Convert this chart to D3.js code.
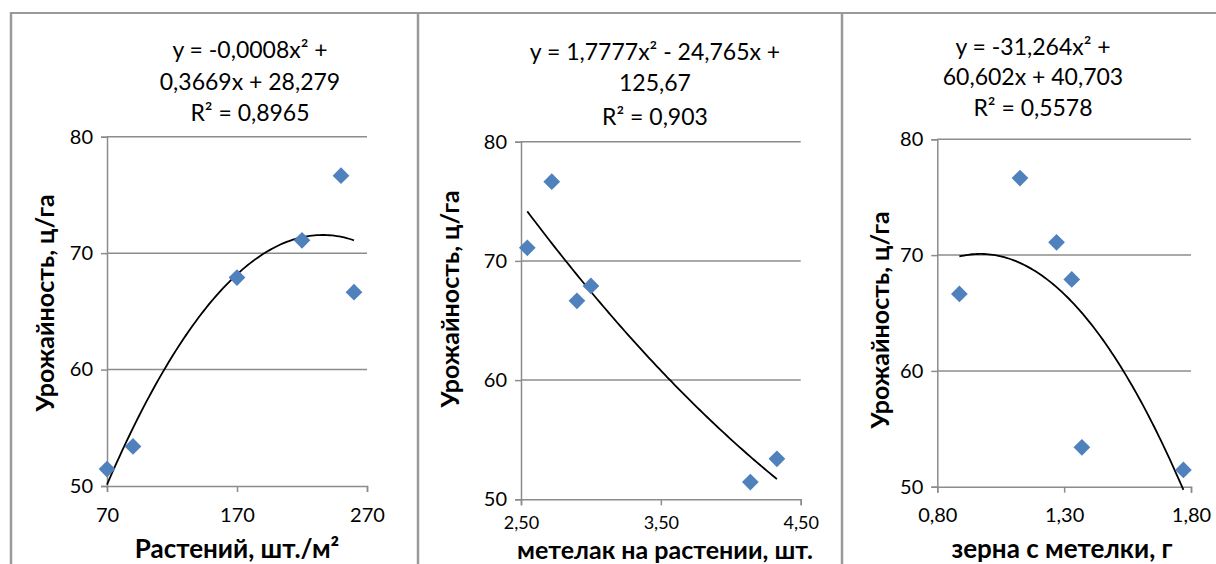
<!DOCTYPE html>
<html>
<head>
<meta charset="utf-8">
<script src="https://cdn.jsdelivr.net/npm/d3@7"></script>
<style>
  body { margin: 0; background: #fff; }
  svg { display: block; font-family: Lato, "Open Sans", sans-serif; }
</style>
</head>
<body>
<div id="chart"></div>
<script>
// yields of the six varieties, ц/га
var yields = [51.45, 53.4, 67.9, 71.1, 76.65, 66.65];
// factors for the same varieties
var plants = [70, 90, 170, 220, 250, 260];          // растений, шт./м²
var panicles = [4.14, 4.33, 3.0, 2.545, 2.72, 2.9]; // метелок на растении
var grain = [1.77, 1.37, 1.33, 1.27, 1.126, 0.887]; // зерна с метелки, г

var yTicks = [50, 60, 70, 80];
var xTicks1 = [70, 170, 270], xTickText1 = ["70", "170", "270"];
var xTicks2 = [2.5, 3.5, 4.5], xTickText2 = ["2,50", "3,50", "4,50"];
var xTicks3 = [0.8, 1.3, 1.8], xTickText3 = ["0,80", "1,30", "1,80"];

var eq1 = ["y = -0,0008x² +", "0,3669x + 28,279", "R² = 0,8965"];
var eq2 = ["y = 1,7777x² - 24,765x +", "125,67", "R² = 0,903"];
var eq3 = ["y = -31,264x² +", "60,602x + 40,703", "R² = 0,5578"];

var yTitle = "Урожайность, ц/га";
var xTitles = ["Растений, шт./м²", "метелак на растении, шт.", "зерна с метелки, г"];

var W = 1216, H = 564;
var svg = d3.select("#chart").append("svg").attr("width", W).attr("height", H);

// panel frames
var frame = "#9a9a9a";
svg.append("line").attr("x1", 10).attr("x2", 1216).attr("y1", 13).attr("y2", 13)
   .attr("stroke", frame).attr("stroke-width", 2);
[11, 418, 842].forEach(function(x) {
  svg.append("line").attr("x1", x).attr("x2", x).attr("y1", 12).attr("y2", H)
     .attr("stroke", frame).attr("stroke-width", 2.5);
});

// least squares quadratic fit
function quadFit(xs, ys) {
  var n = xs.length, s = [0,0,0,0,0], t = [0,0,0];
  for (var i = 0; i < n; i++) {
    var p = 1;
    for (var k = 0; k < 5; k++) { s[k] += p; if (k < 3) t[k] += p * ys[i]; p *= xs[i]; }
  }
  var A = [[s[0], s[1], s[2], t[0]], [s[1], s[2], s[3], t[1]], [s[2], s[3], s[4], t[2]]];
  for (var c = 0; c < 3; c++) {
    for (var r = c + 1; r < 3; r++) {
      var f = A[r][c] / A[c][c];
      for (var j = c; j < 4; j++) A[r][j] -= f * A[c][j];
    }
  }
  var b = [0,0,0];
  for (var r2 = 2; r2 >= 0; r2--) {
    var v = A[r2][3];
    for (var j2 = r2 + 1; j2 < 3; j2++) v -= A[r2][j2] * b[j2];
    b[r2] = v / A[r2][r2];
  }
  return function(x) { return b[0] + b[1] * x + b[2] * x * x; };
}

var panels = [
  {xs: plants, dom: [70, 270], xr: [107, 367], yr: [486, 136.7], ticks: xTicks1, tickText: xTickText1, tickSize: 20,
   eq: eq1, eqX: 250, eqY: [58, 90, 121], yTitleX: 45, yTitleY: 303,
   xTitleX: 237, xTitleY: 558, xTitleSize: 26, tickY: 522},
  {xs: panicles, dom: [2.5, 4.5], xr: [521, 800.7], yr: [499.3, 141.7], ticks: xTicks2, tickText: xTickText2, tickSize: 18,
   eq: eq2, eqX: 655, eqY: [60, 91, 125], yTitleX: 450, yTitleY: 299,
   xTitleX: 665, xTitleY: 559, xTitleSize: 25, tickY: 529},
  {xs: grain, dom: [0.8, 1.8], xr: [937.3, 1191], yr: [486.7, 139.3], ticks: xTicks3, tickText: xTickText3, tickSize: 20,
   eq: eq3, eqX: 1033, eqY: [55, 85, 116], yTitleX: 880, yTitleY: 320,
   xTitleX: 1062, xTitleY: 558, xTitleSize: 26, tickY: 522}
];

var grid = "#8c8c8c";

panels.forEach(function(p, idx) {
  var x = d3.scaleLinear().domain(p.dom).range(p.xr);
  var y = d3.scaleLinear().domain([50, 80]).range(p.yr);
  var g = svg.append("g");

  // gridlines
  g.selectAll(".grid").data(yTicks.slice(1)).enter().append("line")
    .attr("x1", p.xr[0]).attr("x2", p.xr[1])
    .attr("y1", function(d) { return y(d); }).attr("y2", function(d) { return y(d); })
    .attr("stroke", grid).attr("stroke-width", 1.5);

  // y axis
  var ya = g.append("g").attr("transform", "translate(" + p.xr[0] + ",0)")
    .call(d3.axisLeft(y).tickValues(yTicks).tickSize(6).tickPadding(8).tickFormat(d3.format("d")));
  // x axis
  var xa = g.append("g").attr("transform", "translate(0," + p.yr[0] + ")")
    .call(d3.axisBottom(x).tickValues(p.ticks).tickSize(6).tickFormat(function(d, i) { return p.tickText[i]; }));
  [ya, xa].forEach(function(a) {
    a.select(".domain").attr("stroke", grid).attr("stroke-width", 1.5);
    a.selectAll(".tick line").attr("stroke", grid).attr("stroke-width", 1.5);
    a.selectAll("text").attr("fill", "#000").style("font-size", "20px").style("font-family", "Lato, sans-serif");
  });
  xa.selectAll("text").attr("y", null).attr("dy", null).style("font-size", p.tickSize + "px")
    .attr("transform", "translate(0," + (p.tickY - p.yr[0]) + ")");

  // trendline
  var fit = quadFit(p.xs, yields);
  var x0 = d3.min(p.xs), x1 = d3.max(p.xs);
  var pts = d3.range(0, 101).map(function(i) { var xv = x0 + (x1 - x0) * i / 100; return [xv, fit(xv)]; });
  g.append("path").datum(pts)
    .attr("d", d3.line().x(function(d) { return x(d[0]); }).y(function(d) { return y(d[1]); }))
    .attr("fill", "none").attr("stroke", "#000").attr("stroke-width", 1.8);

  // points
  g.selectAll(".dot").data(p.xs).enter().append("path")
    .attr("d", d3.symbol(d3.symbolSquare, 140))
    .attr("transform", function(d, i) { return "translate(" + x(d) + "," + y(yields[i]) + ") rotate(45)"; })
    .attr("fill", "#4f81bd");

  // equation label
  g.selectAll(".eq").data(p.eq).enter().append("text")
    .attr("x", p.eqX).attr("y", function(d, i) { return p.eqY[i]; })
    .attr("text-anchor", "middle").style("font-size", "23px").text(function(d) { return d; });

  // axis titles
  g.append("text")
    .attr("transform", "translate(" + p.yTitleX + "," + p.yTitleY + ") rotate(-90)")
    .attr("text-anchor", "middle").attr("dy", "0.35em")
    .style("font-size", "25px").style("font-weight", "bold").text(yTitle);
  g.append("text").attr("x", p.xTitleX).attr("y", p.xTitleY)
    .attr("text-anchor", "middle").style("font-size", p.xTitleSize + "px").style("font-weight", "bold").text(xTitles[idx]);
});
</script>
</body>
</html>
